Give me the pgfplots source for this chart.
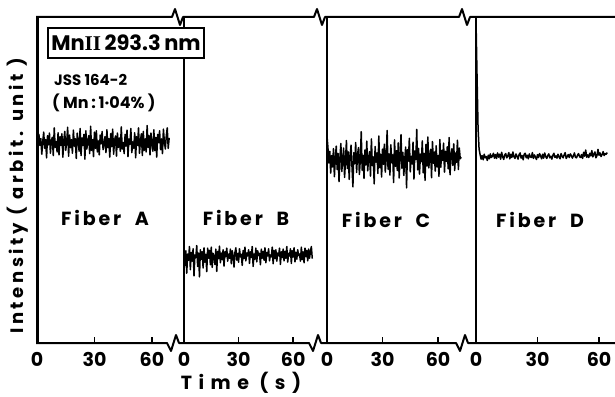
\documentclass[border=0pt]{standalone}
\usepackage{fontspec}
\setmainfont{Poppins}
\newfontfamily\lblfont[LetterSpace=15]{Poppins}
\newfontfamily\timefont[LetterSpace=34]{Poppins}
\newfontfamily\ylfont[LetterSpace=20]{Poppins}
\newfontfamily\seriffont{Liberation Serif}
\usepackage{pgfplots}
\usepackage{pgfplotstable}
\pgfplotsset{compat=1.18}

\pgfplotstableread[header=false,row sep=\\]{
61.7\\ 59.3\\ 64.0\\ 60.6\\ 62.7\\ 57.9\\ 61.8\\ 64.7\\ 59.7\\ 62.4\\
56.8\\ 63.6\\ 60.8\\ 64.4\\ 58.2\\ 62.0\\ 63.1\\ 57.5\\ 66.0\\ 60.0\\
61.8\\ 58.6\\ 64.5\\ 57.7\\ 63.3\\ 60.6\\ 64.2\\ 57.0\\ 62.2\\ 64.9\\
59.1\\ 61.5\\ 66.2\\ 57.3\\ 63.8\\ 59.9\\ 62.4\\ 58.2\\ 65.3\\ 60.4\\
62.7\\ 56.6\\ 64.4\\ 61.7\\ 58.8\\ 65.8\\ 57.5\\ 62.9\\ 60.6\\ 64.0\\
56.4\\ 65.1\\ 59.5\\ 61.8\\ 63.6\\ 58.1\\ 66.5\\ 59.1\\ 62.4\\ 57.2\\
64.7\\ 59.7\\ 65.1\\ 58.6\\ 62.0\\ 57.7\\ 63.8\\ 61.1\\ 64.9\\ 59.3\\
60.8\\ 63.3\\ 58.4\\ 65.4\\ 59.9\\ 62.7\\ 57.0\\ 64.2\\ 60.2\\ 65.6\\
57.9\\ 62.2\\ 63.5\\ 57.3\\ 64.4\\ 60.0\\ 62.9\\ 58.8\\ 66.3\\ 59.5\\
61.5\\ 58.1\\ 64.0\\ 60.4\\ 65.3\\ 57.2\\ 62.6\\ 60.9\\ 65.8\\ 58.4\\
61.7\\ 59.7\\ 64.5\\ 56.8\\ 63.3\\ 60.6\\ 66.0\\ 58.2\\ 62.0\\ 64.2\\
57.5\\ 64.9\\ 59.1\\ 62.6\\ 58.6\\ 66.7\\ 60.0\\ 63.6\\ 57.7\\ 64.4\\
61.1\\ 58.8\\ 65.4\\ 59.0\\ 63.1\\ 57.0\\ 64.0\\ 61.5\\ 65.1\\ 59.3\\
62.6\\ 58.1\\ 65.6\\ 61.8\\ 59.5\\ 63.5\\ 66.0\\ 59.7\\ 62.9\\
}\fibA

\pgfplotstableread[header=false,row sep=\\]{
29.4\\ 23.8\\ 28.3\\ 21.4\\ 27.3\\ 25.4\\ 29.6\\ 22.5\\ 27.8\\ 25.1\\
28.9\\ 20.6\\ 27.0\\ 26.2\\ 29.9\\ 23.5\\ 27.6\\ 20.3\\ 28.6\\ 25.7\\
28.0\\ 23.0\\ 29.2\\ 24.8\\ 27.2\\ 21.9\\ 29.1\\ 26.0\\ 28.4\\ 24.0\\
29.4\\ 23.2\\ 27.5\\ 26.7\\ 24.1\\ 28.8\\ 22.0\\ 28.1\\ 25.9\\ 29.7\\
24.6\\ 27.6\\ 25.6\\ 28.6\\ 23.6\\ 28.0\\ 26.5\\ 29.1\\ 25.1\\ 27.3\\
26.0\\ 28.8\\ 24.3\\ 28.3\\ 26.8\\ 23.3\\ 27.8\\ 29.2\\ 25.4\\ 27.5\\
24.8\\ 28.9\\ 26.4\\ 27.2\\ 23.8\\ 28.4\\ 25.9\\ 29.4\\ 25.2\\ 27.6\\
26.7\\ 28.6\\ 24.4\\ 28.0\\ 26.2\\ 29.6\\ 23.5\\ 27.3\\ 25.7\\ 29.1\\
24.9\\ 28.3\\ 26.8\\ 27.5\\ 24.0\\ 28.8\\ 26.0\\ 28.1\\ 25.4\\ 29.2\\
24.6\\ 27.8\\ 26.7\\ 28.9\\ 25.2\\ 27.0\\ 26.4\\ 29.4\\ 24.3\\ 28.4\\
25.9\\ 28.6\\ 25.1\\ 27.6\\ 26.8\\ 29.1\\ 24.1\\ 28.0\\ 26.2\\ 28.8\\
25.2\\ 28.1\\ 26.0\\ 29.6\\ 24.8\\ 27.5\\ 26.7\\ 28.9\\ 24.4\\ 28.3\\
26.4\\ 29.2\\ 24.9\\ 27.8\\ 25.7\\ 28.6\\ 26.8\\ 27.3\\ 25.1\\ 29.4\\
25.6\\ 28.0\\ 24.6\\ 29.1\\ 26.5\\ 28.4\\ 25.2\\ 28.8\\ 26.0\\ 28.1\\
29.6\\ 25.9\\
}\fibB

\pgfplotstableread[header=false,row sep=\\]{
63.5\\ 60.0\\ 55.2\\ 58.8\\ 52.1\\ 57.5\\ 54.0\\ 59.6\\ 51.0\\ 56.8\\
60.4\\ 53.2\\ 58.1\\ 49.5\\ 57.0\\ 61.2\\ 52.6\\ 56.4\\ 59.8\\ 50.8\\
55.9\\ 62.1\\ 53.5\\ 58.6\\ 50.2\\ 57.3\\ 60.7\\ 54.1\\ 47.9\\ 58.4\\
55.0\\ 61.5\\ 52.3\\ 57.8\\ 59.9\\ 51.7\\ 56.2\\ 64.8\\ 53.0\\ 57.6\\
50.5\\ 59.2\\ 54.6\\ 61.9\\ 52.8\\ 56.9\\ 58.7\\ 51.2\\ 62.6\\ 54.4\\
57.1\\ 48.8\\ 60.3\\ 55.5\\ 58.3\\ 52.0\\ 63.5\\ 53.8\\ 57.9\\ 50.9\\
59.5\\ 54.8\\ 61.0\\ 52.4\\ 56.6\\ 65.2\\ 53.3\\ 58.0\\ 51.5\\ 60.8\\
55.3\\ 57.7\\ 49.2\\ 62.3\\ 54.2\\ 59.0\\ 52.9\\ 61.4\\ 50.6\\ 57.4\\
63.9\\ 53.6\\ 58.5\\ 51.4\\ 56.1\\ 60.1\\ 47.6\\ 59.3\\ 55.8\\ 62.8\\
52.5\\ 57.2\\ 54.9\\ 61.6\\ 50.3\\ 58.9\\ 56.3\\ 65.5\\ 53.1\\ 59.7\\
51.8\\ 57.9\\ 55.6\\ 62.0\\ 52.2\\ 58.2\\ 49.9\\ 60.9\\ 54.3\\ 63.2\\
53.7\\ 56.7\\ 59.4\\ 50.7\\ 61.8\\ 55.1\\ 58.6\\ 52.7\\ 60.5\\ 54.0\\
57.5\\ 51.1\\ 62.4\\ 53.9\\ 59.1\\ 56.0\\ 61.3\\ 52.4\\ 58.8\\ 55.7\\
60.2\\ 53.4\\ 63.0\\ 51.6\\ 57.6\\ 59.6\\ 54.5\\ 61.1\\ 52.9\\ 58.3\\
55.4\\ 62.2\\ 53.2\\ 59.8\\ 56.5\\ 57.0\\
}\fibC

\pgfplotstableread[header=false,row sep=\\]{
99\\ 82\\ 66\\ 59.5\\ 57.8\\ 56.4\\ 57.5\\ 56.2\\ 57.9\\ 56.8\\
57.2\\ 56.0\\ 57.6\\ 56.5\\ 58.0\\ 56.9\\ 57.3\\ 58.2\\ 56.7\\ 57.8\\
56.6\\ 58.3\\ 57.0\\ 57.9\\ 56.4\\ 58.5\\ 57.1\\ 56.3\\ 57.7\\ 58.1\\
56.8\\ 57.4\\ 58.4\\ 56.5\\ 57.9\\ 56.9\\ 58.6\\ 57.2\\ 56.6\\ 58.0\\
57.3\\ 56.4\\ 57.8\\ 58.3\\ 56.7\\ 57.5\\ 56.2\\ 57.9\\ 58.2\\ 56.8\\
57.6\\ 56.5\\ 58.0\\ 57.1\\ 56.9\\ 58.4\\ 56.6\\ 57.7\\ 57.0\\ 56.3\\
57.8\\ 56.9\\ 58.1\\ 57.4\\ 56.5\\ 57.9\\ 56.7\\ 58.3\\ 57.2\\ 56.6\\
57.5\\ 58.0\\ 56.8\\ 57.3\\ 56.4\\ 57.6\\ 58.2\\ 56.9\\ 57.4\\ 56.7\\
57.9\\ 57.1\\ 56.5\\ 58.1\\ 57.3\\ 56.8\\ 57.7\\ 58.4\\ 56.6\\ 57.2\\
57.8\\ 56.9\\ 58.0\\ 57.5\\ 56.7\\ 57.4\\ 58.3\\ 57.0\\ 56.8\\ 57.6\\
58.1\\ 57.2\\ 56.9\\ 57.8\\ 56.6\\ 58.5\\ 57.3\\ 59.2\\ 57.0\\ 57.7\\
56.9\\ 58.2\\ 57.4\\ 59.0\\ 57.1\\ 57.9\\ 58.6\\ 56.8\\ 57.5\\ 59.4\\
57.6\\ 58.3\\ 57.2\\ 57.8\\ 58.7\\ 57.5\\ 58.1\\ 57.9\\ 58.4\\
}\fibD

\pgfplotsset{
  panel/.style={
    anchor=south west, scale only axis, height=326pt,
    ymin=0, ymax=100, xmin=0,
    axis line style={draw=none},
    ytick=\empty, xtick={0,30,60},
    xtick pos=bottom, xtick align=inside,
    major tick length=6pt,
    every tick/.style={line width=1.4pt, black},
    /pgf/number format/assume math mode=true,
    xticklabel style={font=\bfseries\fontsize{19}{19}\selectfont, yshift=-6pt},
    clip=true,
  },
  trace/.style={black, line width=1.5pt, line join=round, no markers},
}

\begin{document}
\begin{tikzpicture}
\path[use as bounding box] (0,0) rectangle (615pt,396pt);

\begin{axis}[panel, at={(37pt,53pt)}, width=136pt, xmax=71]
\addplot[trace] table[x expr=\coordindex*0.5, y index=0] {\fibA};
\end{axis}
\begin{axis}[panel, at={(184pt,53pt)}, width=131pt, xmax=72]
\addplot[trace] table[x expr=\coordindex*0.5, y index=0] {\fibB};
\end{axis}
\begin{axis}[panel, at={(327pt,53pt)}, width=136pt, xmax=73.5]
\addplot[trace] table[x expr=\coordindex*0.5, y index=0] {\fibC};
\end{axis}
\begin{axis}[panel, at={(476pt,53pt)}, width=139pt, xmax=67.8]
\addplot[trace] table[x expr=\coordindex*0.5, y index=0] {\fibD};
\end{axis}

% left axis lines
\draw[line width=3pt] (37pt,53pt) -- (37pt,379pt);
\draw[line width=1.6pt] (184pt,53pt) -- (184pt,379pt);
\draw[line width=1.6pt] (327pt,53pt) -- (327pt,379pt);
\draw[line width=1.6pt] (476pt,53pt) -- (476pt,379pt);

% top line with breaks
\draw[line width=2pt, line join=round]
  (36pt,379pt) -- (172pt,379pt) -- (175pt,387pt) -- (180pt,371pt) -- (183pt,379pt)
  -- (314pt,379pt) -- (317pt,387pt) -- (322pt,371pt) -- (325pt,379pt)
  -- (459pt,379pt) -- (462pt,387pt) -- (467pt,371pt) -- (470pt,379pt)
  -- (615pt,379pt);
% bottom line with breaks
\draw[line width=2pt, line join=round]
  (36pt,53pt) -- (167pt,53pt) -- (171pt,45pt) -- (176pt,61pt) -- (179pt,53pt)
  -- (309pt,53pt) -- (313pt,45pt) -- (318pt,61pt) -- (321pt,53pt)
  -- (456pt,53pt) -- (460pt,45pt) -- (465pt,61pt) -- (468pt,53pt)
  -- (615pt,53pt);

% annotation box
\node[draw, line width=1.6pt, fill=white, minimum width=156pt, minimum height=30pt, inner sep=0pt,
      font=\bfseries\fontsize{21}{22}\selectfont] at (126pt,353pt)
  {Mn{\seriffont\bfseries II}\,293.3\,nm};
\node[anchor=west, font=\bfseries\fontsize{15}{16}\selectfont, inner sep=0pt] at (54pt,316pt) {JSS 164-2};
\node[anchor=west, font=\bfseries\fontsize{16}{17}\selectfont, inner sep=0pt] at (52pt,293pt) {( Mn\,:\,1·04\% )};

% fiber labels
\node[font=\lblfont\bfseries\fontsize{19}{22}\selectfont] at (105pt,178pt) {Fiber\ \ A};
\node[font=\lblfont\bfseries\fontsize{19}{22}\selectfont] at (246pt,178pt) {Fiber\ \ B};
\node[font=\lblfont\bfseries\fontsize{19}{22}\selectfont] at (386pt,176pt) {Fiber\ \ C};
\node[font=\lblfont\bfseries\fontsize{19}{22}\selectfont] at (540pt,176pt) {Fiber\ \ D};

% axis labels
\node[font=\timefont\bfseries\fontsize{19}{22}\selectfont] at (241pt,13pt) {Time (s)};
\node[rotate=90, font=\ylfont\bfseries\fontsize{18}{20}\selectfont] at (18pt,200pt) {Intensity ( arbit. unit )};
\end{tikzpicture}
\end{document}
